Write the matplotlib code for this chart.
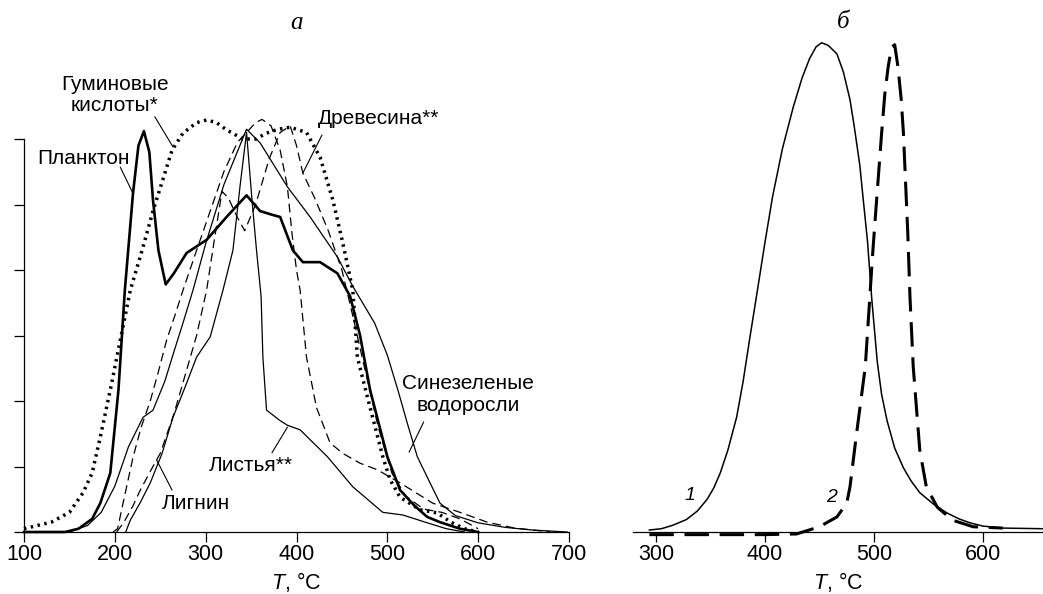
import numpy as np
import matplotlib
matplotlib.use('Agg')
import matplotlib.pyplot as plt

plt.rcParams['font.family'] = ['Liberation Sans', 'DejaVu Sans']
plt.rcParams['mathtext.fontset'] = 'custom'
plt.rcParams['mathtext.it'] = 'Liberation Sans:italic'
plt.rcParams['mathtext.rm'] = 'Liberation Sans'

# --- panel a: temperature (C) vs relative yield ---
plankton_t = [100, 145, 160, 175, 184, 195, 204, 211, 220, 226, 232, 238, 242, 248, 256, 265, 279, 301,
              323, 345, 360, 374, 382, 396, 407, 426, 445, 459, 470, 481, 500, 514, 530, 544, 558, 580, 600]
plankton_h = [0, 0, 0.05, 0.2, 0.44, 0.9, 2.17, 3.69, 5.17, 5.9, 6.12, 5.8, 5.07, 4.3, 3.78, 3.95, 4.26, 4.46,
              4.81, 5.14, 4.9, 4.84, 4.81, 4.3, 4.12, 4.12, 3.95, 3.6, 3.0, 2.17, 1.15, 0.64, 0.4, 0.23, 0.15, 0.05, 0]

humic_t = [100, 130, 150, 165, 175, 184, 195, 206, 217, 230, 242, 263, 275, 290, 301, 312, 323, 341, 355,
           367, 380, 393, 411, 426, 440, 451, 462, 467, 481, 495, 503, 514, 536, 555, 570, 585, 600]
humic_h = [0.05, 0.15, 0.3, 0.6, 0.9, 1.45, 2.17, 2.93, 3.69, 4.3, 4.9, 5.83, 6.09, 6.25, 6.29, 6.25, 6.14, 6.0, 6.0,
           6.09, 6.15, 6.18, 6.1, 5.72, 5.07, 4.41, 3.69, 2.67, 1.9, 1.15, 0.8, 0.53, 0.34, 0.29, 0.15, 0.05, 0]

algae_t = [150, 170, 185, 200, 215, 231, 242, 255, 265, 275, 286, 300, 320, 345, 360, 390, 415, 445, 462,
           486, 500, 512, 522, 533, 547, 558, 575, 600, 630, 660, 698]
algae_h = [0, 0.1, 0.3, 0.7, 1.3, 1.75, 1.86, 2.3, 2.75, 3.19, 3.69, 4.4, 5.3, 6.15, 5.94, 5.27, 4.81, 4.2, 3.75,
           3.19, 2.7, 2.15, 1.66, 1.15, 0.75, 0.44, 0.25, 0.14, 0.07, 0.03, 0]

leaves_t = [212, 217, 228, 239, 252, 264, 277, 290, 305, 319, 330, 338, 345, 351, 356, 361, 363, 367, 382,
            390, 404, 434, 462, 495, 517, 544, 565, 585]
leaves_h = [0, 0.18, 0.45, 0.75, 1.2, 1.75, 2.2, 2.67, 2.98, 3.69, 4.3, 5.3, 6.1, 5.07, 4.3, 3.6, 2.67, 1.86, 1.7,
            1.63, 1.56, 1.15, 0.69, 0.3, 0.26, 0.14, 0.05, 0]

lignin_t = [198, 203, 210, 220, 229, 239, 248, 257, 266, 275, 290, 305, 320, 335, 345, 355, 362, 372, 382,
            390, 395, 400, 404, 411, 422, 437, 451, 470, 489, 514, 550, 580, 610, 640, 680]
lignin_h = [0, 0.05, 0.5, 1.14, 1.6, 2.0, 2.45, 2.93, 3.3, 3.69, 4.3, 4.9, 5.5, 5.95, 6.1, 6.25, 6.3, 6.2, 5.83,
            5.27, 4.56, 4.0, 3.69, 2.67, 1.9, 1.36, 1.2, 1.05, 0.95, 0.75, 0.44, 0.3, 0.15, 0.06, 0]

wood_t = [202, 210, 220, 228, 240, 250, 265, 279, 290, 301, 310, 318, 325, 335, 343, 355, 370, 382, 393,
          400, 407, 420, 435, 450, 462, 475, 490, 505, 520, 540, 560, 580, 600]
wood_h = [0, 0.15, 0.4, 0.64, 0.95, 1.2, 1.8, 2.47, 3.0, 3.69, 4.5, 5.2, 5.1, 4.8, 4.6, 5.0, 5.7, 6.1, 6.2,
          5.9, 5.48, 5.1, 4.6, 4.0, 3.3, 2.5, 1.6, 0.9, 0.55, 0.35, 0.3, 0.2, 0.05]

ticks_a = [100, 200, 300, 400, 500, 600, 700]

# --- panel b ---
c1_t = [294, 305, 315, 328, 338, 347, 353, 359, 366, 374, 380, 386, 393, 400, 407, 416, 426, 434, 441, 447,
        452, 458, 466, 472, 478, 482, 487, 490, 494, 498, 503, 507, 512, 519, 527, 534, 542, 555, 567, 578,
        588, 600, 618, 655]
c1_h = [0.03, 0.05, 0.1, 0.19, 0.32, 0.5, 0.67, 0.9, 1.25, 1.75, 2.3, 2.95, 3.68, 4.42, 5.12, 5.85, 6.49,
        6.93, 7.23, 7.41, 7.47, 7.43, 7.3, 7.02, 6.6, 6.18, 5.6, 5.1, 4.45, 3.55, 2.6, 2.1, 1.7, 1.28, 0.98,
        0.78, 0.6, 0.42, 0.29, 0.2, 0.14, 0.09, 0.06, 0.05]

c2_t = [294, 350, 400, 429, 450, 466, 475, 478, 484, 492, 496, 499, 503, 507, 510, 513, 516, 519, 522, 525,
        527, 531, 533, 536, 542, 548, 558, 572, 591, 618]
c2_h = [-0.04, -0.04, -0.04, -0.03, 0.08, 0.23, 0.44, 0.69, 1.5, 2.52, 3.54, 4.3, 5.2, 6.09, 6.7, 7.1, 7.4,
        7.44, 7.1, 6.6, 6.09, 4.56, 3.59, 2.52, 1.25, 0.69, 0.38, 0.18, 0.08, 0.06]

ticks_b = [300, 400, 500, 600]

fig = plt.figure(figsize=(10.43, 5.94), dpi=100)
ax = fig.add_axes([24 / 1043, 62 / 594, 545 / 1043, 522 / 594])
bx = fig.add_axes([633 / 1043, 62 / 594, 410 / 1043, 522 / 594])

thick = 1.9
thin = 0.9
k = 'black'

ax.plot(plankton_t, plankton_h, color=k, lw=thick, solid_joinstyle='round', clip_on=False)
ax.plot(humic_t, humic_h, color=k, lw=2.5, ls=(0, (0.7, 1.3)), dash_capstyle='butt', clip_on=False)
ax.plot(algae_t, algae_h, color=k, lw=thin, clip_on=False)
ax.plot(leaves_t, leaves_h, color=k, lw=thin, clip_on=False)
ax.plot(lignin_t, lignin_h, color=k, lw=thin, ls=(0, (7, 4)), clip_on=False)
ax.plot(wood_t, wood_h, color=k, lw=thin, ls=(0, (7, 4)), clip_on=False)

bx.plot(c1_t, c1_h, color=k, lw=1.1, solid_joinstyle='round', clip_on=False)
bx.plot(c2_t, c2_h, color=k, lw=2.2, ls=(0, (8, 3.5)), clip_on=False)

for a in (ax, bx):
    a.set_ylim(0, 7.97)
    for s in ('top', 'right'):
        a.spines[s].set_visible(False)
    a.spines['bottom'].set_linewidth(0.9)
    a.tick_params(axis='x', direction='out', length=7, width=0.9, pad=2, labelsize=15.5)
    a.set_xlabel(r'$T$, °C', fontsize=15.5, labelpad=3)

ax.set_xlim(100, 700)
ax.set_xticks(ticks_a)
ax.set_yticks(range(0, 7))
ax.set_yticklabels([])
ax.spines['left'].set_bounds(0, 6)
ax.spines['left'].set_linewidth(0.9)
ax.tick_params(axis='y', direction='out', length=7, width=0.9)

bx.set_xlim(279, 655)
bx.set_xticks(ticks_b)
bx.spines['left'].set_visible(False)
bx.set_yticks([])

# panel letters
ax.text(0.5, 0.975, 'а', transform=ax.transAxes, ha='center', va='center', fontsize=18,
        family='Liberation Serif', style='italic')
bx.text(0.512, 0.977, 'б', transform=bx.transAxes, ha='center', va='center', fontsize=18,
        family='Liberation Serif', style='italic')

# labels with pointer lines
fs = 15
line = dict(arrowstyle='-', lw=0.8, color=k, shrinkA=0, shrinkB=0)
labels = [
    ('Гуминовые\nкислоты*', (200, 6.67), (244, 6.34), (264, 5.88)),
    ('Планктон', (165, 5.71), (206, 5.57), (220, 5.17)),
    ('Древесина**', (490, 6.32), (428, 6.06), (407, 5.48)),
    ('Листья**', (350, 1.02), (373, 1.21), (390, 1.6)),
    ('Лигнин', (289, 0.43), (263, 0.64), (246, 1.1)),
    ('Синезеленые\nводоросли', (589, 2.1), (540, 1.68), (524, 1.22)),
]
for txt, pos, start, tip in labels:
    ax.text(pos[0], pos[1], txt, ha='center', va='center', fontsize=fs, linespacing=1.15)
    ax.annotate('', xy=tip, xytext=start, arrowprops=line)

bx.text(331, 0.55, '1', ha='center', va='center', fontsize=14, style='italic')
bx.text(461, 0.53, '2', ha='center', va='center', fontsize=14, style='italic')

fig.savefig('out.png', dpi=100)
